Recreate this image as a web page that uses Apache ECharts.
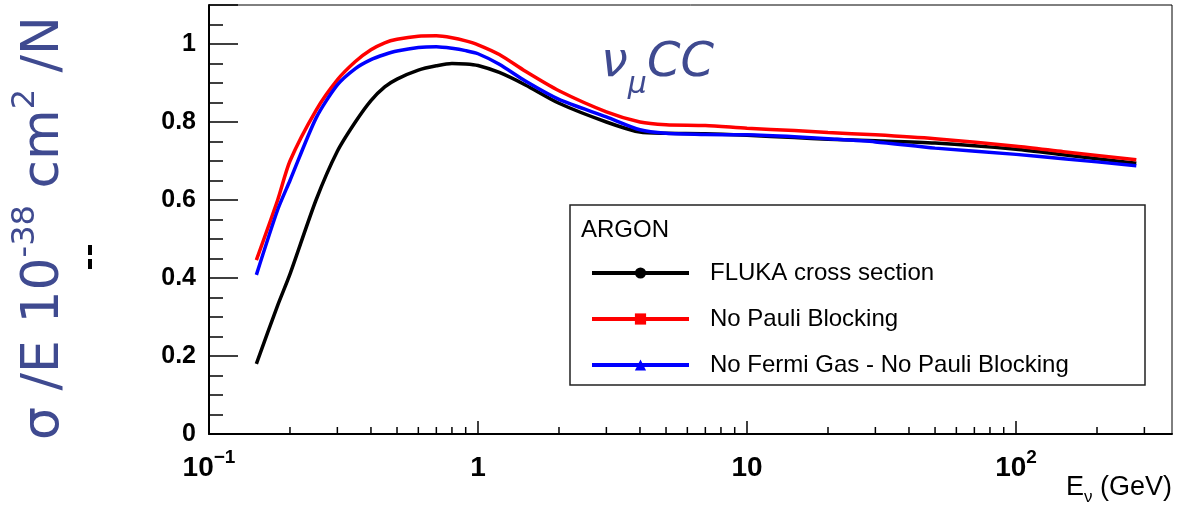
<!DOCTYPE html>
<html>
<head>
<meta charset="utf-8">
<script src="https://cdn.jsdelivr.net/npm/echarts@6/dist/echarts.min.js"></script>
<style>
  html, body { margin: 0; padding: 0; background: #fff; }
  #chart { width: 1177px; height: 514px; }
</style>
</head>
<body>
<div id="chart"></div>
<script>
// neutrino energy (GeV)
const energy = [0.15, 0.18, 0.2, 0.25, 0.3, 0.35, 0.4, 0.45, 0.5, 0.6, 0.7, 0.8, 0.9, 1.0, 1.2, 1.5, 2, 3, 4, 5, 7, 10, 15, 20, 30, 50, 100, 150, 280]
// sigma/E, 10^-38 cm^2 / N
const fluka = [0.18, 0.33, 0.41, 0.60, 0.725, 0.80, 0.855, 0.89, 0.91, 0.933, 0.944, 0.950, 0.949, 0.945, 0.927, 0.895, 0.848, 0.80, 0.774, 0.771, 0.770, 0.766, 0.760, 0.756, 0.752, 0.746, 0.730, 0.716, 0.694]
const noPauli = [0.446, 0.60, 0.70, 0.83, 0.908, 0.955, 0.985, 1.003, 1.012, 1.020, 1.021, 1.016, 1.008, 0.998, 0.973, 0.93, 0.88, 0.826, 0.80, 0.793, 0.791, 0.784, 0.778, 0.773, 0.767, 0.757, 0.738, 0.724, 0.703]
const noFermi = [0.408, 0.575, 0.65, 0.81, 0.895, 0.937, 0.96, 0.973, 0.982, 0.991, 0.993, 0.989, 0.983, 0.975, 0.948, 0.905, 0.858, 0.813, 0.78, 0.771, 0.768, 0.767, 0.762, 0.757, 0.749, 0.733, 0.717, 0.706, 0.688]
const seriesNames = ['FLUKA cross section', 'No Pauli Blocking', 'No Fermi Gas - No Pauli Blocking']
// minor ticks of the log axis
const xMinorTicks = [0.2, 0.3, 0.4, 0.5, 0.6, 0.7, 0.8, 0.9, 2, 3, 4, 5, 6, 7, 8, 9, 20, 30, 40, 50, 60, 70, 80, 90, 200, 300]

const axisColor = '#000'
const titleColor = '#3f4a90'

function pairs (vals) {
  return energy.map((e, i) => [e, vals[i]])
}

let myChart = echarts.init(document.getElementById('chart'))
myChart.setOption({
  animation: false,
  grid: {
    left: 209,
    right: 5,
    top: 5,
    bottom: 80,
    show: true,
    borderColor: '#000',
    borderWidth: 1
  },
  legend: {
    orient: 'vertical',
    left: 590,
    top: 261,
    padding: 0,
    itemWidth: 97,
    itemHeight: 14,
    itemGap: 22,
    lineStyle: { width: 4 },
    textStyle: {
      fontFamily: 'Liberation Sans',
      fontSize: 24,
      lineHeight: 23,
      color: '#000',
      padding: [0, 0, 0, 16]
    },
    data: seriesNames
  },
  xAxis: {
    type: 'log',
    logBase: 10,
    min: 0.1,
    max: 380,
    axisLine: { onZero: false, lineStyle: { color: axisColor, width: 2 } },
    axisTick: { inside: true, length: 13, lineStyle: { color: axisColor, width: 1.5 } },
    splitLine: { show: false },
    axisLabel: {
      showMaxLabel: false,
      margin: 14,
      formatter: function (v) {
        if (Math.abs(v - 0.1) < 1e-9) return '{b|10}{s|−1}'
        if (Math.abs(v - 1) < 1e-9) return '{b|1}'
        if (Math.abs(v - 10) < 1e-9) return '{b|10}'
        if (Math.abs(v - 100) < 1e-9) return '{b|10}{s|2}'
        return ''
      },
      rich: {
        b: { fontFamily: 'Liberation Sans', fontWeight: 'bold', fontSize: 28, color: '#000', lineHeight: 34, verticalAlign: 'bottom' },
        s: { fontFamily: 'Liberation Sans', fontWeight: 'bold', fontSize: 19, color: '#000', lineHeight: 34, verticalAlign: 'top' }
      }
    }
  },
  yAxis: {
    type: 'value',
    min: 0,
    max: 1.1,
    interval: 0.2,
    axisLine: { show: true, lineStyle: { color: axisColor, width: 2 } },
    axisTick: { show: true, inside: true, length: 29, lineStyle: { color: axisColor, width: 1.5 } },
    minorTick: { show: true, splitNumber: 4, length: 14, lineStyle: { color: axisColor, width: 1.5 } },
    splitLine: { show: false },
    axisLabel: {
      showMaxLabel: false,
      margin: 13,
      fontFamily: 'Liberation Sans',
      fontWeight: 'bold',
      fontSize: 25,
      color: '#000'
    }
  },
  graphic: [
    {
      type: 'text',
      x: 40,
      y: 228,
      rotation: Math.PI / 2,
      scaleX: 1.0,
      style: {
        text: '{a|σ /E 10}{s|-38}{a| cm}{s|2}{a| /N}',
        x: 0,
        y: 0,
        align: 'center',
        verticalAlign: 'middle',
        rich: {
          a: { fontFamily: 'DejaVu Sans', fontSize: 52, fill: titleColor, lineHeight: 60, verticalAlign: 'bottom' },
          s: { fontFamily: 'DejaVu Sans', fontSize: 32, fill: titleColor, lineHeight: 60, verticalAlign: 'top' }
        }
      }
    },
    {
      type: 'rect',
      shape: { x: 88, y: 245, width: 4, height: 10 },
      style: { fill: '#000' }
    },
    {
      type: 'rect',
      shape: { x: 88, y: 259, width: 4, height: 10 },
      style: { fill: '#000' }
    },
    {
      type: 'text',
      x: 601,
      y: 64,
      style: {
        text: '{a|ν}{s|μ}{a|CC}',
        verticalAlign: 'middle',
        rich: {
          a: { fontFamily: 'DejaVu Sans', fontStyle: 'italic', fontSize: 48, fill: titleColor, lineHeight: 64, verticalAlign: 'middle' },
          s: { fontFamily: 'DejaVu Sans', fontStyle: 'italic', fontSize: 30, fill: titleColor, lineHeight: 72, verticalAlign: 'bottom' }
        }
      }
    },
    {
      type: 'text',
      right: 5,
      top: 474,
      style: {
        text: '{a|E}{s|ν}{a| (GeV)}',
        rich: {
          a: { fontFamily: 'Liberation Sans', fontSize: 27, fill: '#000', lineHeight: 32, verticalAlign: 'top' },
          s: { fontFamily: 'Liberation Sans', fontSize: 17, fill: '#000', lineHeight: 32, verticalAlign: 'bottom' }
        }
      }
    },
    {
      type: 'rect',
      shape: { x: 570, y: 205, width: 575, height: 180 },
      style: { fill: 'none', stroke: '#222', lineWidth: 1.5 },
      z: 10
    },
    {
      type: 'text',
      x: 581,
      y: 230,
      style: {
        text: 'ARGON',
        verticalAlign: 'middle',
        fontFamily: 'Liberation Sans',
        fontSize: 24,
        fill: '#000'
      },
      z: 10
    }
  ],
  series: [
    {
      name: seriesNames[0],
      type: 'line',
      data: pairs(fluka),
      smooth: 0.25,
      symbol: 'circle',
      showSymbol: false,
      color: '#000',
      lineStyle: { color: '#000', width: 3.5 }
    },
    {
      name: seriesNames[1],
      type: 'line',
      data: pairs(noPauli),
      smooth: 0.25,
      symbol: 'rect',
      showSymbol: false,
      color: '#ff0000',
      lineStyle: { color: '#ff0000', width: 3.5 }
    },
    {
      name: seriesNames[2],
      type: 'line',
      data: pairs(noFermi),
      smooth: 0.25,
      symbol: 'triangle',
      showSymbol: false,
      color: '#0000ff',
      lineStyle: { color: '#0000ff', width: 3.5 }
    },
    {
      // minor ticks on the energy axis
      type: 'custom',
      silent: true,
      data: xMinorTicks.map(v => [v, 0]),
      renderItem: function (params, api) {
        let p = api.coord([api.value(0), 0])
        return {
          type: 'line',
          shape: { x1: p[0], y1: p[1], x2: p[0], y2: p[1] - 7 },
          style: { stroke: '#000', lineWidth: 1.5 }
        }
      },
      z: 3
    }
  ]
})
</script>
</body>
</html>
